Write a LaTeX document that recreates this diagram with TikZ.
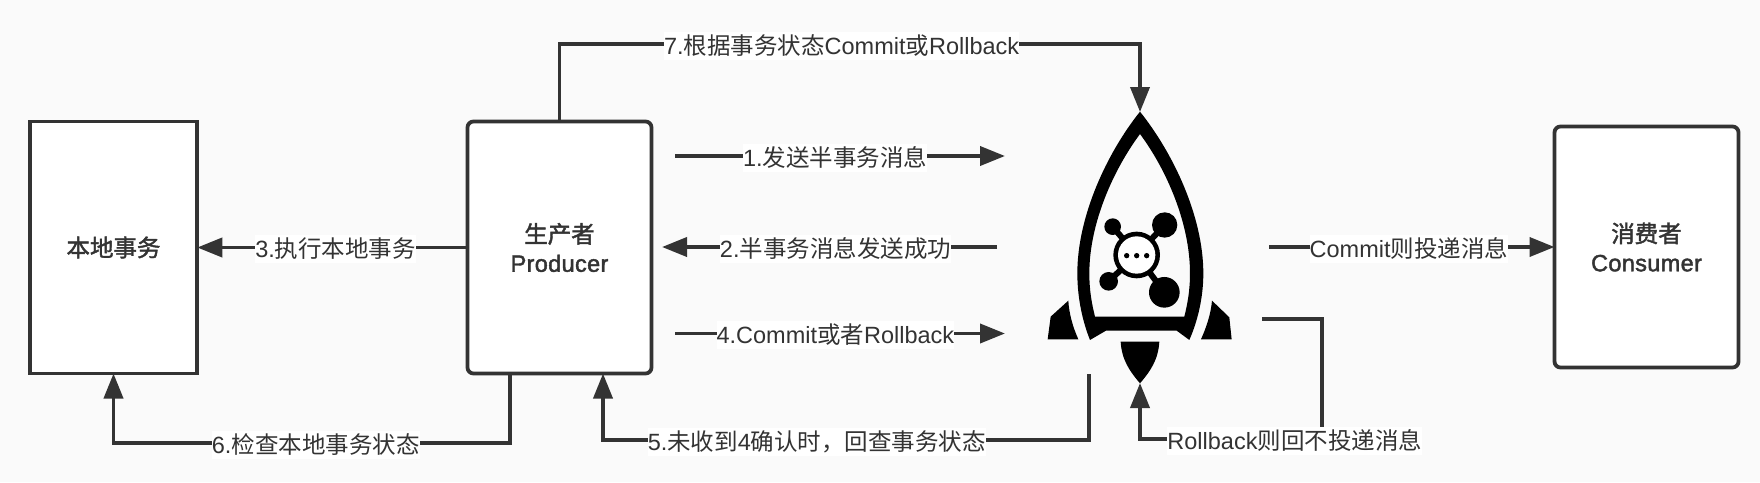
\documentclass[tikz,border=0pt]{standalone}
\usepackage{fontspec}
\setmainfont{Liberation Sans}
\newfontfamily\cjk{Noto Sans CJK SC}
\newfontfamily\cjkm[FakeBold=1.8]{Noto Sans CJK SC}
\newfontfamily\latm[FakeBold=1.8,LetterSpace=1.5]{Liberation Sans}
\usetikzlibrary{arrows.meta}
\newcommand\zh[1]{{\cjk #1}}
\newcommand\zhm[1]{{\cjkm #1}}
\definecolor{ink}{HTML}{333333}
\definecolor{bgc}{HTML}{FAFAFA}
\tikzset{
  box/.style={draw=ink,line width=3.8pt,fill=white,inner sep=0pt,outer sep=0pt,align=center,text=ink,font=\fontsize{23.5}{29}\selectfont\latm},
  conn/.style={draw=ink,line width=3.8pt,-{Triangle[length=25pt,width=19pt]}},
  lbl/.style={fill=white,text=ink,inner sep=0pt,minimum height=28pt,yshift=-1.5pt,font=\fontsize{23.5}{27}\selectfont},
}
\begin{document}
\begin{tikzpicture}[x=1pt,y=-1pt]
\useasboundingbox (0,0) rectangle (1760,482);
\fill[bgc] (0,0) rectangle (1760,482);
% boxes
\node[box,minimum width=167.5pt,minimum height=252pt] (local) at (113.5,247.5) {\raisebox{-2pt}{\zhm{本地事务}}};
\node[box,rounded corners=6pt,minimum width=184pt,minimum height=252pt] (producer) at (559.5,247.5) {\zhm{生产者}\\Producer};
\node[box,rounded corners=6pt,minimum width=184pt,minimum height=241pt] (consumer) at (1646.5,247) {\zhm{消费者}\\Consumer};
% rocket
\begin{scope}[shift={(1000,90)},x=0.3333pt,y=-0.3333pt]
\fill[black,even odd rule]
  (420,65) .. controls (520,190) and (610,380) .. (610,550)
  .. controls (610,630) and (590,700) .. (568,750) -- (530,722) -- (318,722) -- (270,750)
  .. controls (250,700) and (232,630) .. (232,550)
  .. controls (232,380) and (320,190) .. (420,65) -- cycle
  (420,132) .. controls (500,240) and (570,400) .. (570,550)
  .. controls (570,600) and (563,640) .. (553,680) -- (285,680)
  .. controls (275,640) and (268,600) .. (268,550)
  .. controls (268,400) and (340,240) .. (420,132) -- cycle;
\fill[black] (205,632) -- (152,680) -- (143,748) -- (235,748) .. controls (218,710) and (207,670) .. (205,632) -- cycle;
\fill[black] (636,632) -- (688,682) -- (695,748) -- (603,748) .. controls (620,710) and (633,670) .. (636,632) -- cycle;
\fill[black] (362,755) -- (478,755) .. controls (475,810) and (450,845) .. (420,880) .. controls (390,845) and (365,810) .. (362,755) -- cycle;
\draw[black,line width=6pt] (338,410) -- (410,495) (494,405) -- (410,495) (326,574) -- (410,495) (493,607) -- (410,495);
\fill[black] (338,410) circle[radius=25] (494,405) circle[radius=38] (326,574) circle[radius=28] (493,607) circle[radius=46];
\fill[black] (410,495) circle[radius=70];
\fill[white] (410,495) circle[radius=56];
\fill[black] (380,497) circle[radius=8] (410,497) circle[radius=8] (440,497) circle[radius=8];
\end{scope}
% free ends
\coordinate (topin) at (1140,112);
\coordinate (c1a) at (675,156); \coordinate (c1b) at (1005,156);
\coordinate (c2a) at (997,247); \coordinate (c2b) at (662,247);
\coordinate (c4a) at (675,333.5); \coordinate (c4b) at (1005,333.5);
\coordinate (cca) at (1269,247);
\coordinate (rba) at (1262,319); \coordinate (rbb) at (1140,383);
\coordinate (c5a) at (1089,374);
% connectors
\draw[conn] (producer.north) -- (559.5,44) -- node[lbl,pos=0.486] (l7) {7.\zh{根据事务状态}Commit\zh{或}Rollback} (1140,44) -- (topin);
\draw[conn] (c1a) -- node[lbl,pos=0.485] (l1) {1.\zh{发送半事务消息}} (c1b);
\draw[conn] (c2a) -- node[lbl,pos=0.482] (l2) {2.\zh{半事务消息发送成功}} (c2b);
\draw[conn] (producer.west) -- node[lbl,pos=0.488] (l3) {3.\zh{执行本地事务}} (local.east);
\draw[conn] (c4a) -- node[lbl,pos=0.486] (l4) {4.Commit\zh{或者}Rollback} (c4b);
\draw[conn] (c5a) -- (1089,440) -- node[lbl,pos=0.56] (l5) {5.\zh{未收到}4\zh{确认时，回查事务状态}} (603,440) -- ([xshift=43.5pt]producer.south);
\draw[conn] ([xshift=-49.5pt]producer.south) -- (510,443) -- node[lbl,pos=0.49] (l6) {6.\zh{检查本地事务状态}} (113.5,443) -- (local.south);
\draw[conn] (cca) -- node[lbl,pos=0.49] (lc) {Commit\zh{则投递消息}} (consumer.west);
\draw[conn] (rba) -- (1322,319) -- (1322,439) -- node[lbl,pos=0.15] (lr) {Rollback\zh{则回不投递消息}} (1140,439) -- (rbb);
\end{tikzpicture}
\end{document}
